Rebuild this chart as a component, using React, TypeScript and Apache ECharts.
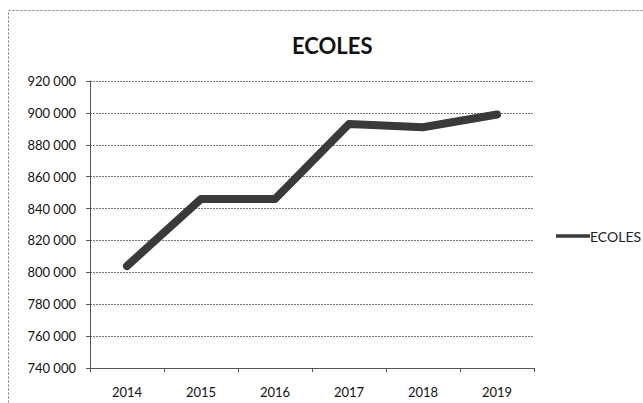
import React, { useEffect, useRef } from "react";
import * as echarts from "echarts";

const years = ["2014", "2015", "2016", "2017", "2018", "2019"];
const ecoles = [804000, 846000, 846000, 893000, 891000, 899000];
const seriesName = "ECOLES";
const titleText = "ECOLES";

const fmt = (v: number) => {
  const s = String(Math.round(v));
  return s.replace(/\B(?=(\d{3})+(?!\d))/g, " ");
};

export default function App() {
  const ref = useRef<HTMLDivElement>(null);
  useEffect(() => {
    if (!ref.current) return;
    const chart = echarts.init(ref.current, null, { renderer: "svg" });
    const font = "Lato, 'Open Sans', sans-serif";
    chart.setOption({
      animation: false,
      backgroundColor: "#ffffff",
      title: {
        text: titleText,
        left: 287,
        top: 29,
        textStyle: { fontFamily: font, fontWeight: "bold", fontSize: 22, color: "#111" },
      },
      graphic: [
        {
          type: "rect",
          shape: { x: 8.5, y: 10.5, width: 640, height: 400 },
          style: { fill: "none", stroke: "#777", lineWidth: 1, lineDash: [2, 2] },
          silent: true,
        },
      ],
      legend: {
        left: 551,
        top: 224,
        orient: "vertical",
        data: [{ name: seriesName, icon: "path://M0,0 L10,0 L10,1 L0,1 Z" }],
        itemWidth: 34,
        itemHeight: 6,
        itemGap: 2,
        textStyle: { fontFamily: font, fontSize: 14, color: "#222", padding: [0, 0, 0, -5] },
      },
      grid: { left: 90, right: 109, top: 81, bottom: 35, containLabel: false },
      xAxis: {
        type: "category",
        data: years,
        boundaryGap: true,
        axisLine: { lineStyle: { color: "#555", width: 1 } },
        axisTick: { show: true, length: 4, lineStyle: { color: "#555" } },
        axisLabel: { fontFamily: font, fontSize: 13, color: "#111", margin: 17 },
        splitLine: { show: false },
      },
      yAxis: {
        type: "value",
        min: 740000,
        max: 920000,
        interval: 20000,
        axisLine: { show: true, lineStyle: { color: "#555", width: 1 } },
        axisTick: { show: true, length: 4, lineStyle: { color: "#555" } },
        axisLabel: { fontFamily: font, fontSize: 13, color: "#111", margin: 14, formatter: fmt },
        splitLine: { show: true, lineStyle: { color: "#777", width: 1, type: [2, 1] } },
      },
      series: [
        {
          name: seriesName,
          type: "line",
          data: ecoles,
          symbol: "none",
          color: "#3a3a3a",
          lineStyle: { color: "#3a3a3a", width: 8, cap: "round", join: "round" },
        },
      ],
    });
    return () => chart.dispose();
  }, []);
  return <div ref={ref} style={{ position: "absolute", left: 0, top: 0, width: 643, height: 403 }} />;
}
